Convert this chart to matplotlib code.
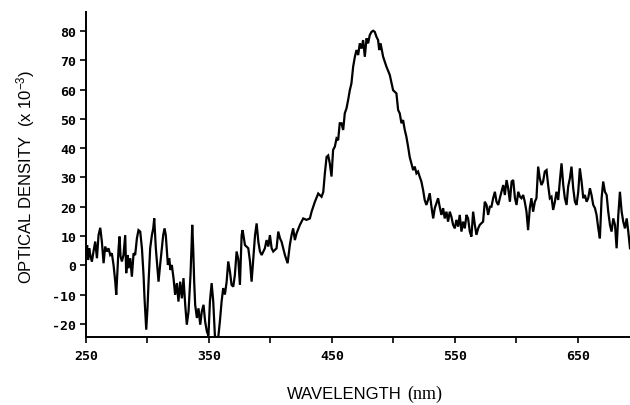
import matplotlib
matplotlib.use("Agg")
import matplotlib.pyplot as plt
from matplotlib.ticker import FixedLocator, FixedFormatter

plt.rcParams['mathtext.default'] = 'regular'

# Wavelength (nm) and optical density (x 1e-3)
wavelength = [
    250.2, 250.9, 251.7, 252.6, 253.7, 254.8, 256.1, 257.5, 258.9, 260.2,
    261.6, 262.9, 264.3, 265.6, 267.0, 268.3, 269.7, 271.0, 272.4, 273.8,
    274.6, 275.4, 276.5, 277.3, 278.1, 279.2, 280.5, 281.9, 282.7, 283.8,
    284.6, 286.0, 287.3, 288.7, 290.0, 291.4, 292.7, 294.1, 295.5, 296.8,
    297.6, 299.0, 300.0, 300.9, 302.2, 303.6, 304.7, 305.5, 306.8, 307.9,
    309.0, 310.3, 311.7, 312.8, 313.9, 314.9, 315.8, 316.6, 317.7, 318.7,
    319.8, 321.2, 322.5, 323.9, 325.2, 326.6, 328.0, 329.3, 330.7, 332.0,
    333.4, 335.0, 335.8, 336.4, 337.2, 338.0, 338.8, 340.2, 341.5, 342.9,
    344.2, 345.6, 346.9, 348.3, 349.6,
    350.8, 352.2, 353.5, 354.9, 357.6, 358.9, 360.3, 361.6, 363.0, 364.4,
    365.7, 367.1, 368.4, 369.8, 371.1, 372.5, 373.9, 375.2, 376.6, 377.4,
    379.3, 382.0, 383.4, 384.7, 386.1, 387.5, 388.8, 390.2, 391.5, 392.9,
    395.5, 396.9, 398.3, 399.6, 401.0, 402.3, 405.0, 406.4, 407.8, 409.1,
    411.8, 414.0, 415.8, 417.2, 418.5, 419.9, 421.3, 424.0, 426.7, 429.4,
    432.1, 433.5, 436.2, 438.9, 441.6, 443.0,
    444.3, 445.7, 447.0, 448.3, 449.7, 451.0, 452.4, 453.8, 455.1, 456.4,
    457.8, 459.2, 460.5, 461.9, 463.2, 464.6, 465.9, 467.3, 468.7, 470.0,
    471.4, 472.7, 474.1, 475.4, 476.8, 478.2, 479.5, 480.8, 482.2, 483.6,
    484.9, 486.3, 487.6, 488.5, 489.6, 491.7, 494.4, 497.1, 499.8, 502.5,
    503.9, 505.2, 506.6, 507.9, 509.3, 510.6, 512.0, 513.3, 514.7, 516.1,
    517.4, 518.8, 520.1, 521.4, 522.8, 524.2, 525.5, 526.9, 528.2,
    529.6, 531.0, 532.4, 533.7, 536.4, 537.7, 539.1, 540.5, 541.8, 543.2,
    544.5, 545.9, 547.2, 548.6, 550.0, 551.3, 552.7, 554.0, 555.4, 556.7,
    558.1, 559.5, 560.8, 562.2, 563.5, 564.9, 566.3, 567.6, 569.0, 570.3,
    573.0, 574.4, 575.8, 577.1, 578.5, 579.8, 581.2, 582.6, 583.9, 585.3,
    586.6, 588.0, 589.4, 590.7, 592.1, 593.4, 594.8, 596.2, 597.5, 598.9,
    600.2, 601.6, 603.0,
    604.2, 605.6, 606.9, 608.3, 609.6, 611.0, 612.3, 613.7, 615.1, 616.4,
    617.8, 619.1, 620.5, 621.8, 623.2, 624.6, 625.9, 627.3, 628.6, 630.0,
    631.4, 632.7, 634.1, 635.4, 636.8, 638.2, 639.5, 640.9, 642.2, 643.6,
    644.9, 646.3, 647.7, 649.0, 650.4, 651.7, 653.1, 654.5, 655.8, 657.2,
    658.5, 659.9, 661.2, 662.6, 664.0, 665.3, 666.7, 668.0, 669.4, 670.7,
    672.1, 673.5, 674.8, 676.2, 677.5, 678.9, 680.3, 681.6, 683.0, 684.3,
    685.7, 687.0, 688.4, 689.8, 691.1, 692.5,
]

optical_density = [
    4.0, 6.9, 1.8, 5.8, 3.0, 1.3, 4.7, 8.1, 2.4, 10.3,
    12.8, 8.1, 0.7, 6.4, 4.7, 5.8, 3.5, 4.1, 0.1, -5.6,
    -10.1, -3.3, 5.8, 9.8, 3.0, 1.3, 3.5, 10.3, -2.7, 3.5,
    -1.0, 2.4, -3.9, 4.1, 3.5, 9.2, 12.0, 11.5, 5.8, -3.3,
    -11.3, -22.0, -14.7, -5.6, 5.8, 10.3, 12.6, 16.0, 5.8, 0.1,
    -5.6, 0.1, 5.8, 10.3, 12.6, 10.3, 4.7, 0.1, 2.4, -1.6,
    0.1, -4.4, -10.1, -6.1, -12.4, -5.6, -11.3, -4.4, -13.5, -20.3,
    -15.8, -3.3, 5.8, 13.8, 5.8, -5.6, -13.5, -18.0, -14.7, -20.3,
    -15.8, -13.5, -19.2, -22.6, -24.0,
    -12.4, -6.1, -12.4, -24.5, -24.5, -19.2, -12.4, -7.8, -10.0, -5.6,
    1.3, -2.2, -6.7, -7.3, -3.3, 4.7, 2.0, -6.7, 10.3, 12.0,
    6.9, 5.8, 1.3, -5.6, 2.4, 10.3, 14.3, 8.0, 4.7, 3.5,
    5.8, 8.6, 6.4, 10.3, 5.8, 4.7, 5.8, 11.5, 9.2, 8.0,
    3.5, 0.7, 6.9, 10.3, 12.6, 8.6, 10.9, 13.8, 16.0, 15.5,
    16.0, 18.3, 21.7, 24.5, 23.4, 25.0,
    31.4, 37.0, 37.5, 34.8, 30.3, 39.4, 40.5, 43.3, 42.7, 48.5,
    48.5, 46.2, 51.9, 53.6, 56.4, 59.8, 62.1, 67.8, 71.2, 73.5,
    71.8, 75.8, 74.0, 76.9, 71.2, 77.5, 75.8, 78.6, 79.7, 80.1,
    79.7, 78.0, 76.9, 73.5, 75.8, 71.2, 67.8, 65.0, 59.8, 58.7,
    53.0, 51.9, 48.5, 49.6, 46.2, 43.9, 40.5, 37.0, 34.8, 32.5,
    33.7, 31.4, 32.0, 30.3, 28.6, 25.7, 22.3, 20.6, 22.3,
    24.6, 20.0, 16.0, 19.5, 22.9, 20.0, 17.2, 19.5, 16.0, 18.3,
    14.9, 18.3, 16.6, 13.8, 12.6, 15.5, 13.2, 17.2, 11.5, 14.9,
    12.6, 17.2, 16.0, 11.5, 9.8, 18.3, 13.8, 10.4, 12.6, 13.8,
    14.9, 21.7, 20.6, 17.2, 20.0, 20.0, 22.9, 25.1, 21.7, 20.6,
    22.9, 25.1, 27.4, 24.0, 29.1, 26.3, 21.7, 28.6, 29.1, 23.0,
    20.6, 25.1, 23.4,
    22.9, 24.0, 21.7, 18.3, 12.0, 19.5, 22.9, 18.3, 21.7, 22.9,
    33.7, 29.7, 27.4, 28.6, 32.0, 32.5, 27.4, 22.9, 23.4, 18.9,
    21.7, 25.1, 22.3, 28.6, 34.8, 27.4, 22.9, 20.6, 26.9, 29.7,
    33.7, 26.3, 21.7, 20.6, 25.1, 33.1, 28.6, 22.9, 24.0, 21.7,
    22.9, 26.3, 24.0, 20.6, 19.5, 17.2, 12.6, 9.2, 22.9, 28.6,
    25.1, 24.0, 18.3, 13.8, 11.5, 16.0, 13.8, 5.8, 17.2, 25.1,
    18.3, 14.9, 12.6, 16.0, 11.5, 5.8,
]

x_ticks = [250, 300, 350, 400, 450, 500, 550, 600, 650]
x_tick_labels = ["250", "", "350", "", "450", "", "550", "", "650"]
y_ticks = [-20, -10, 0, 10, 20, 30, 40, 50, 60, 70, 80]
y_tick_labels = ["-20", "-10", "0", "10", "20", "30", "40", "50", "60", "70", "80"]

fig = plt.figure(figsize=(6.3, 4.06), dpi=100)
ax = fig.add_axes([86 / 630, (406 - 338) / 406, 544 / 630, 325 / 406])

ax.plot(wavelength, optical_density, color="black", lw=1.6, solid_joinstyle="miter")

ax.set_xlim(250, 692.5)
ax.set_ylim(-24.5, 86.5)

for s in ["top", "right"]:
    ax.spines[s].set_visible(False)
for s in ["left", "bottom"]:
    ax.spines[s].set_linewidth(1.4)
    ax.spines[s].set_color("black")

ax.xaxis.set_major_locator(FixedLocator(x_ticks))
ax.xaxis.set_major_formatter(FixedFormatter(x_tick_labels))
ax.yaxis.set_major_locator(FixedLocator(y_ticks))
ax.yaxis.set_major_formatter(FixedFormatter(y_tick_labels))

ax.tick_params(axis="both", direction="out", length=4, width=1.2, color="black",
               labelsize=9.5, pad=3)
ax.tick_params(axis="x", pad=5)
for lab in ax.get_xticklabels() + ax.get_yticklabels():
    lab.set_fontfamily("DejaVu Sans Mono")
    lab.set_fontweight("bold")

fig.text(26 / 630, (406 - 177) / 406, "OPTICAL DENSITY  (x 10$^{-3}$)",
         rotation=90, ha="center", va="center", fontsize=12,
         family="Liberation Sans")
fig.text(287 / 630, 7 / 406, "WAVELENGTH", ha="left", va="baseline",
         fontsize=12, family="Liberation Sans")
fig.text(407 / 630, 7 / 406, "(nm)", ha="left", va="baseline",
         fontsize=13, family="Liberation Serif")

fig.savefig("out.png", dpi=100, facecolor="white")
